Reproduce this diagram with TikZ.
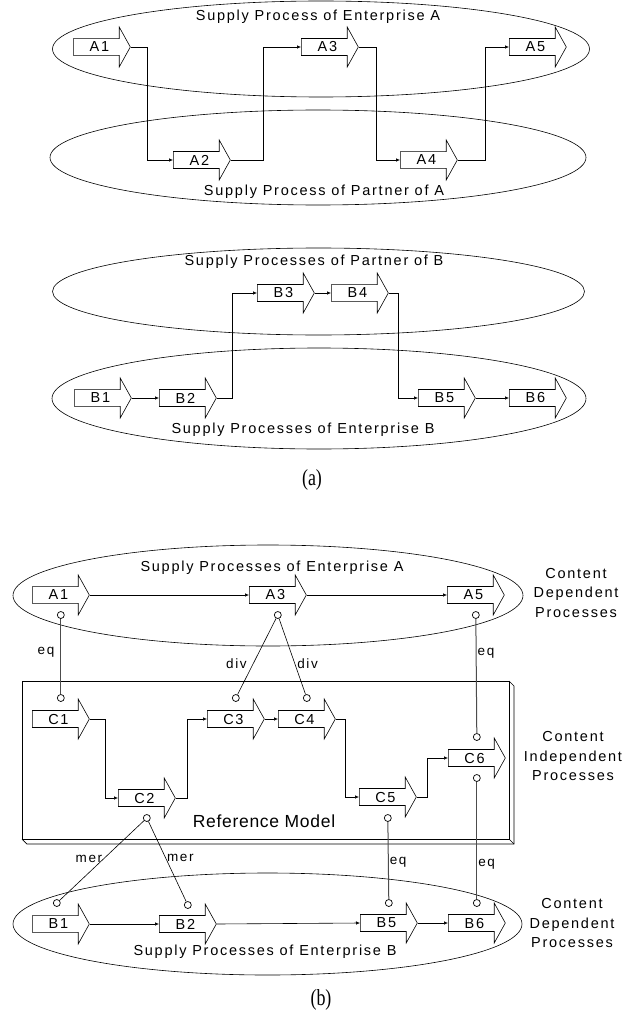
\documentclass[tikz,border=0pt]{standalone}
\usepackage{fontspec}
\setmainfont{Liberation Sans}[LetterSpace=12]
\newfontfamily\capfont{Liberation Serif}
\newfontfamily\boxfont{Liberation Sans}[LetterSpace=4]
\usetikzlibrary{arrows.meta,shapes.arrows,shapes.geometric,calc}
\tikzstyle{proc}=[single arrow,draw,fill=white,line width=0.6pt,minimum height=57pt,minimum width=40pt,single arrow head extend=10pt,single arrow tip angle=122,inner xsep=2pt,inner ysep=2pt,anchor=tail,font=\fontsize{14.5}{17}\selectfont]
\tikzstyle{pool}=[ellipse,draw,line width=0.6pt,inner sep=0pt]
\tikzstyle{flow}=[draw,line width=0.6pt,-{Latex[length=4pt,width=3.5pt]}]
\tikzstyle{port}=[circle,draw,fill=white,line width=0.7pt,inner sep=0pt,minimum size=7pt]
\tikzstyle{eqlink}=[draw,line width=1pt,black!70]
\tikzstyle{maplink}=[draw,line width=0.6pt]
\tikzstyle{lbl}=[font=\fontsize{14.5}{19.5}\selectfont,align=center,inner sep=0pt]
\tikzstyle{rel}=[font=\fontsize{13.5}{16}\selectfont,inner sep=1pt,black]
\tikzstyle{caption}=[font=\capfont\fontsize{23}{26}\selectfont]

\begin{document}
\begin{tikzpicture}[x=1pt,y=-1pt]
    \useasboundingbox (0,0) rectangle (631,1019);
    % (a) the pools of both enterprises
    \node[pool,minimum width=537pt,minimum height=96pt] (entA) at (321,49) {};
    \node[pool,minimum width=536pt,minimum height=95pt] (parA) at (318,157.5) {};
    \node[pool,minimum width=532pt,minimum height=87pt] (parB) at (318.5,291.5) {};
    \node[pool,minimum width=534pt,minimum height=101pt] (entB) at (319,398.5) {};
    \node[lbl] (tEA) at (318,17) {Supply Process of Enterprise A};
    \node[lbl] (tPA) at (324,192) {Supply Process of Partner of A};
    \node[lbl] (tPB) at (314,262) {Supply Processes of Partner of B};
    \node[lbl] (tEB) at (303,430) {Supply Processes of Enterprise B};

    % (a) the process steps
    \foreach \pos/\name/\txt in {{(73,47)/aA1/A1}, {(173,160)/aA2/A2}, {(301,47)/aA3/A3}, {(400,160)/aA4/A4}, {(509,47)/aA5/A5},
        {(74,398)/aB1/B1}, {(159,398)/aB2/B2}, {(257,293)/aB3/B3}, {(331,293)/aB4/B4}, {(418,398)/aB5/B5}, {(509,398)/aB6/B6}}
        \node[proc] (\name) at \pos {\txt};

    % (a) the flows
    \draw[flow] (aA1.tip) -- ++(17,0) |- (aA2.tail);
    \draw[flow] (aA2.tip) -- ++(33,0) |- (aA3.tail);
    \draw[flow] (aA3.tip) -- ++(18,0) |- (aA4.tail);
    \draw[flow] (aA4.tip) -- ++(28,0) |- (aA5.tail);
    \draw[flow] (aB1.tip) -- (aB2.tail);
    \draw[flow] (aB2.tip) -- ++(16,0) |- (aB3.tail);
    \draw[flow] (aB3.tip) -- (aB4.tail);
    \draw[flow] (aB4.tip) -- ++(10,0) |- (aB5.tail);
    \draw[flow] (aB5.tip) -- (aB6.tail);
    \node[caption] (capa) at (312,480) {\scalebox{0.78}[1]{(a)}};

    % (b) reference model slab
    \draw[line width=0.7pt,fill=white] (22,681) rectangle (509,839);
    \draw[line width=0.7pt] (509,681) -- (514,686) -- (514,844) -- (27,844) -- (22,839);
    \draw[line width=0.7pt] (509,839) -- (514,844);
    \node[font=\boxfont\fontsize{17.5}{20}\selectfont] (refm) at (264,821) {Reference Model};

    % (b) the pools
    \node[pool,minimum width=510pt,minimum height=101pt] (sEA) at (268,595.5) {};
    \node[pool,minimum width=509pt,minimum height=102pt] (sEB) at (267.5,924) {};
    \node[lbl] (tsEA) at (272,568) {Supply Processes of Enterprise A};
    \node[lbl] (tsEB) at (265,952) {Supply Processes of Enterprise B};
    \node[lbl] (dep1) at (576,593) {Content\\Dependent\\Processes};
    \node[lbl] (ind) at (573,756) {Content\\Independent\\Processes};
    \node[lbl] (dep2) at (572,923) {Content\\Dependent\\Processes};

    % (b) the process steps
    \foreach \pos/\name in {{(32,595)/A1}, {(249,595)/A3}, {(447,595)/A5},
        {(32,719)/C1}, {(118,798)/C2}, {(207,719)/C3}, {(278,719)/C4}, {(359,797)/C5}, {(448,758)/C6},
        {(32,924)/B1}, {(159,924)/B2}, {(360,923)/B5}, {(448,923)/B6}}
        \node[proc] (\name) at \pos {\name};

    % (b) the flows
    \draw[flow] (A1.tip) -- (A3.tail);
    \draw[flow] (A3.tip) -- (A5.tail);
    \draw[flow] (C1.tip) -- ++(16,0) |- (C2.tail);
    \draw[flow] (C2.tip) -- ++(12,0) |- (C3.tail);
    \draw[flow] (C3.tip) -- (C4.tail);
    \draw[flow] (C4.tip) -- ++(10,0) |- (C5.tail);
    \draw[flow] (C5.tip) -- ++(11,0) |- (C6.tail);
    \draw[flow] (B1.tip) -- (B2.tail);
    \draw[flow] (B2.tip) -- (B5.tail);
    \draw[flow] (B5.tip) -- (B6.tail);

    % (b) ports and mappings
    \foreach \nd/\dx/\dy/\pn in {A1/0/20/pA1, A3/0/20/pA3, A5/0/20/pA5, C1/0/-21/pC1, C3/0/-21/pC3, C4/0/-21/pC4,
        C6/0/-21/pC6t, C6/0/20/pC6b, C2/0/20/pC2, C5/0/21/pC5, B1/-4/-21/pB1, B2/0/-19/pB2, B5/0/-20/pB5, B6/0/-20/pB6}
        \node[port] (\pn) at ($(\nd.tail)!0.5!(\nd.tip)+(\dx,\dy)$) {};
    \draw[eqlink] (pA1) -- node[rel,pos=0.45,left=5pt] {eq} (pC1);
    \draw[maplink] (pA3) -- node[rel,pos=0.6,left=5pt] {div} (pC3);
    \draw[maplink] (pA3) -- node[rel,pos=0.6,right=1pt] {div} (pC4);
    \draw[eqlink] (pA5) -- node[rel,pos=0.3,right] {eq} (pC6t);
    \draw[maplink] (pC2) -- node[rel,pos=0.48,left=0pt] {mer} (pB1);
    \draw[maplink] (pC2) -- node[rel,pos=0.46,right=0pt] {mer} (pB2);
    \draw[eqlink] (pC5) -- node[rel,pos=0.52,right] {eq} (pB5);
    \draw[eqlink] (pC6b) -- node[rel,pos=0.7,right] {eq} (pB6);
    \node[caption] (capb) at (321,1000) {\scalebox{0.78}[1]{(b)}};
\end{tikzpicture}
\end{document}
